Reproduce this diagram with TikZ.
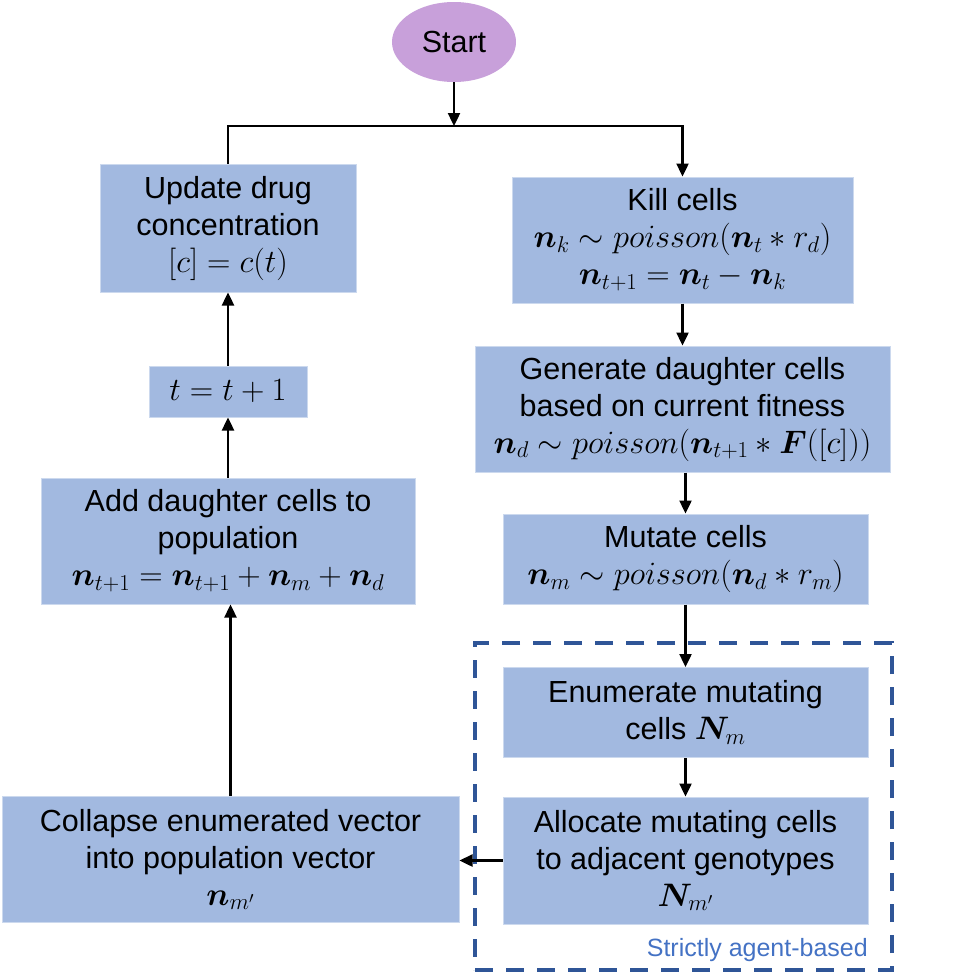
\documentclass[tikz,border=0pt]{standalone}
\usepackage{fix-cm}
\usepackage{amsmath}
\usepackage{bm}
\usepackage{fontspec}
\setmainfont{Liberation Sans}
\usetikzlibrary{shapes.geometric,arrows.meta}
\definecolor{boxfill}{RGB}{162,185,224}
\definecolor{startfill}{RGB}{200,160,218}
\definecolor{dashblue}{RGB}{47,85,151}
\definecolor{labelblue}{RGB}{68,114,196}
\newcommand{\eqsize}{\fontsize{32.5}{37}\selectfont}
\tikzset{
  flowbox/.style={rectangle, fill=boxfill, draw=boxfill!55!white, line width=1pt,
    align=center, inner sep=0pt, font=\fontsize{30.5}{37}\selectfont},
  startnode/.style={ellipse, fill=startfill, minimum width=124pt, minimum height=80pt,
    inner sep=0pt, font=\fontsize{30.5}{37}\selectfont},
  flowarrow/.style={line width=2.4pt, -{Triangle[length=13pt,width=12pt]}},
  agentframe/.style={draw=dashblue, line width=4pt, dash pattern=on 18pt off 13pt,
    minimum width=417pt, minimum height=327pt, inner sep=0pt},
}
\begin{document}
\begin{tikzpicture}[x=1pt,y=-1pt]
\useasboundingbox (0,0) rectangle (954,977);
\node[startnode] (start) at (454,42) {Start};
\node[flowbox, minimum width=256pt, minimum height=128pt] (upd) at (228,228)
  {Update drug\\concentration\\{\eqsize$[c]=c(t)$}};
\node[flowbox, minimum width=158pt, minimum height=51pt] (tinc) at (228,391.5)
  {{\eqsize$t=t+1$}};
\node[flowbox, minimum width=374pt, minimum height=126pt] (add) at (228,541)
  {Add daughter cells to\\population\\{\eqsize$\bm{n}_{t+1}=\bm{n}_{t+1}+\bm{n}_m+\bm{n}_d$}};
\node[flowbox, minimum width=457pt, minimum height=126pt] (coll) at (230.5,859.5)
  {Collapse enumerated vector\\into population vector\\{\eqsize$\bm{n}_{m'}$}};
\node[flowbox, minimum width=341pt, minimum height=126pt] (kill) at (682.5,240)
  {Kill cells\\{\eqsize$\bm{n}_k\sim poisson(\bm{n}_t*r_d)$}\\{\eqsize$\bm{n}_{t+1}=\bm{n}_t-\bm{n}_k$}};
\node[flowbox, minimum width=415pt, minimum height=126pt] (gen) at (682.5,409)
  {Generate daughter cells\\based on current fitness\\{\eqsize$\bm{n}_d\sim poisson(\bm{n}_{t+1}*\bm{F}([c]))$}};
\node[flowbox, minimum width=365pt, minimum height=90pt] (mut) at (685.5,559)
  {Mutate cells\\{\eqsize$\bm{n}_m\sim poisson(\bm{n}_d*r_m)$}};
\node[agentframe] (frame) at (683.5,806.5) {};
\node[flowbox, minimum width=365pt, minimum height=90pt] (enum) at (685.5,712.5)
  {Enumerate mutating\\cells {\eqsize$\bm{N}_m$}};
\node[flowbox, minimum width=365pt, minimum height=127pt] (alloc) at (685.5,860.5)
  {Allocate mutating cells\\to adjacent genotypes\\{\eqsize$\bm{N}_{m'}$}};
\node[anchor=base east, text=labelblue, font=\fontsize{25}{30}\selectfont, inner sep=0pt]
  (agentlabel) at ([shift={(-26pt,16pt)}]frame.south east) {Strictly agent-based};
\coordinate (junc) at (454,126);
\draw[flowarrow] (start.south) -- (junc);
\draw[flowarrow] (upd.north) |- (junc) -| (kill.north);
\draw[flowarrow] (kill.south) -- (gen.north);
\draw[flowarrow] (mut.north |- gen.south) -- (mut.north);
\draw[flowarrow] (mut.south) -- (enum.north);
\draw[flowarrow] (enum.south) -- (alloc.north);
\draw[flowarrow] (alloc.west) -- (alloc.west -| coll.east);
\draw[flowarrow] (coll.north) -- (coll.north |- add.south);
\draw[flowarrow] (add.north) -- (tinc.south);
\draw[flowarrow] (tinc.north) -- (upd.south);
\end{tikzpicture}
\end{document}
